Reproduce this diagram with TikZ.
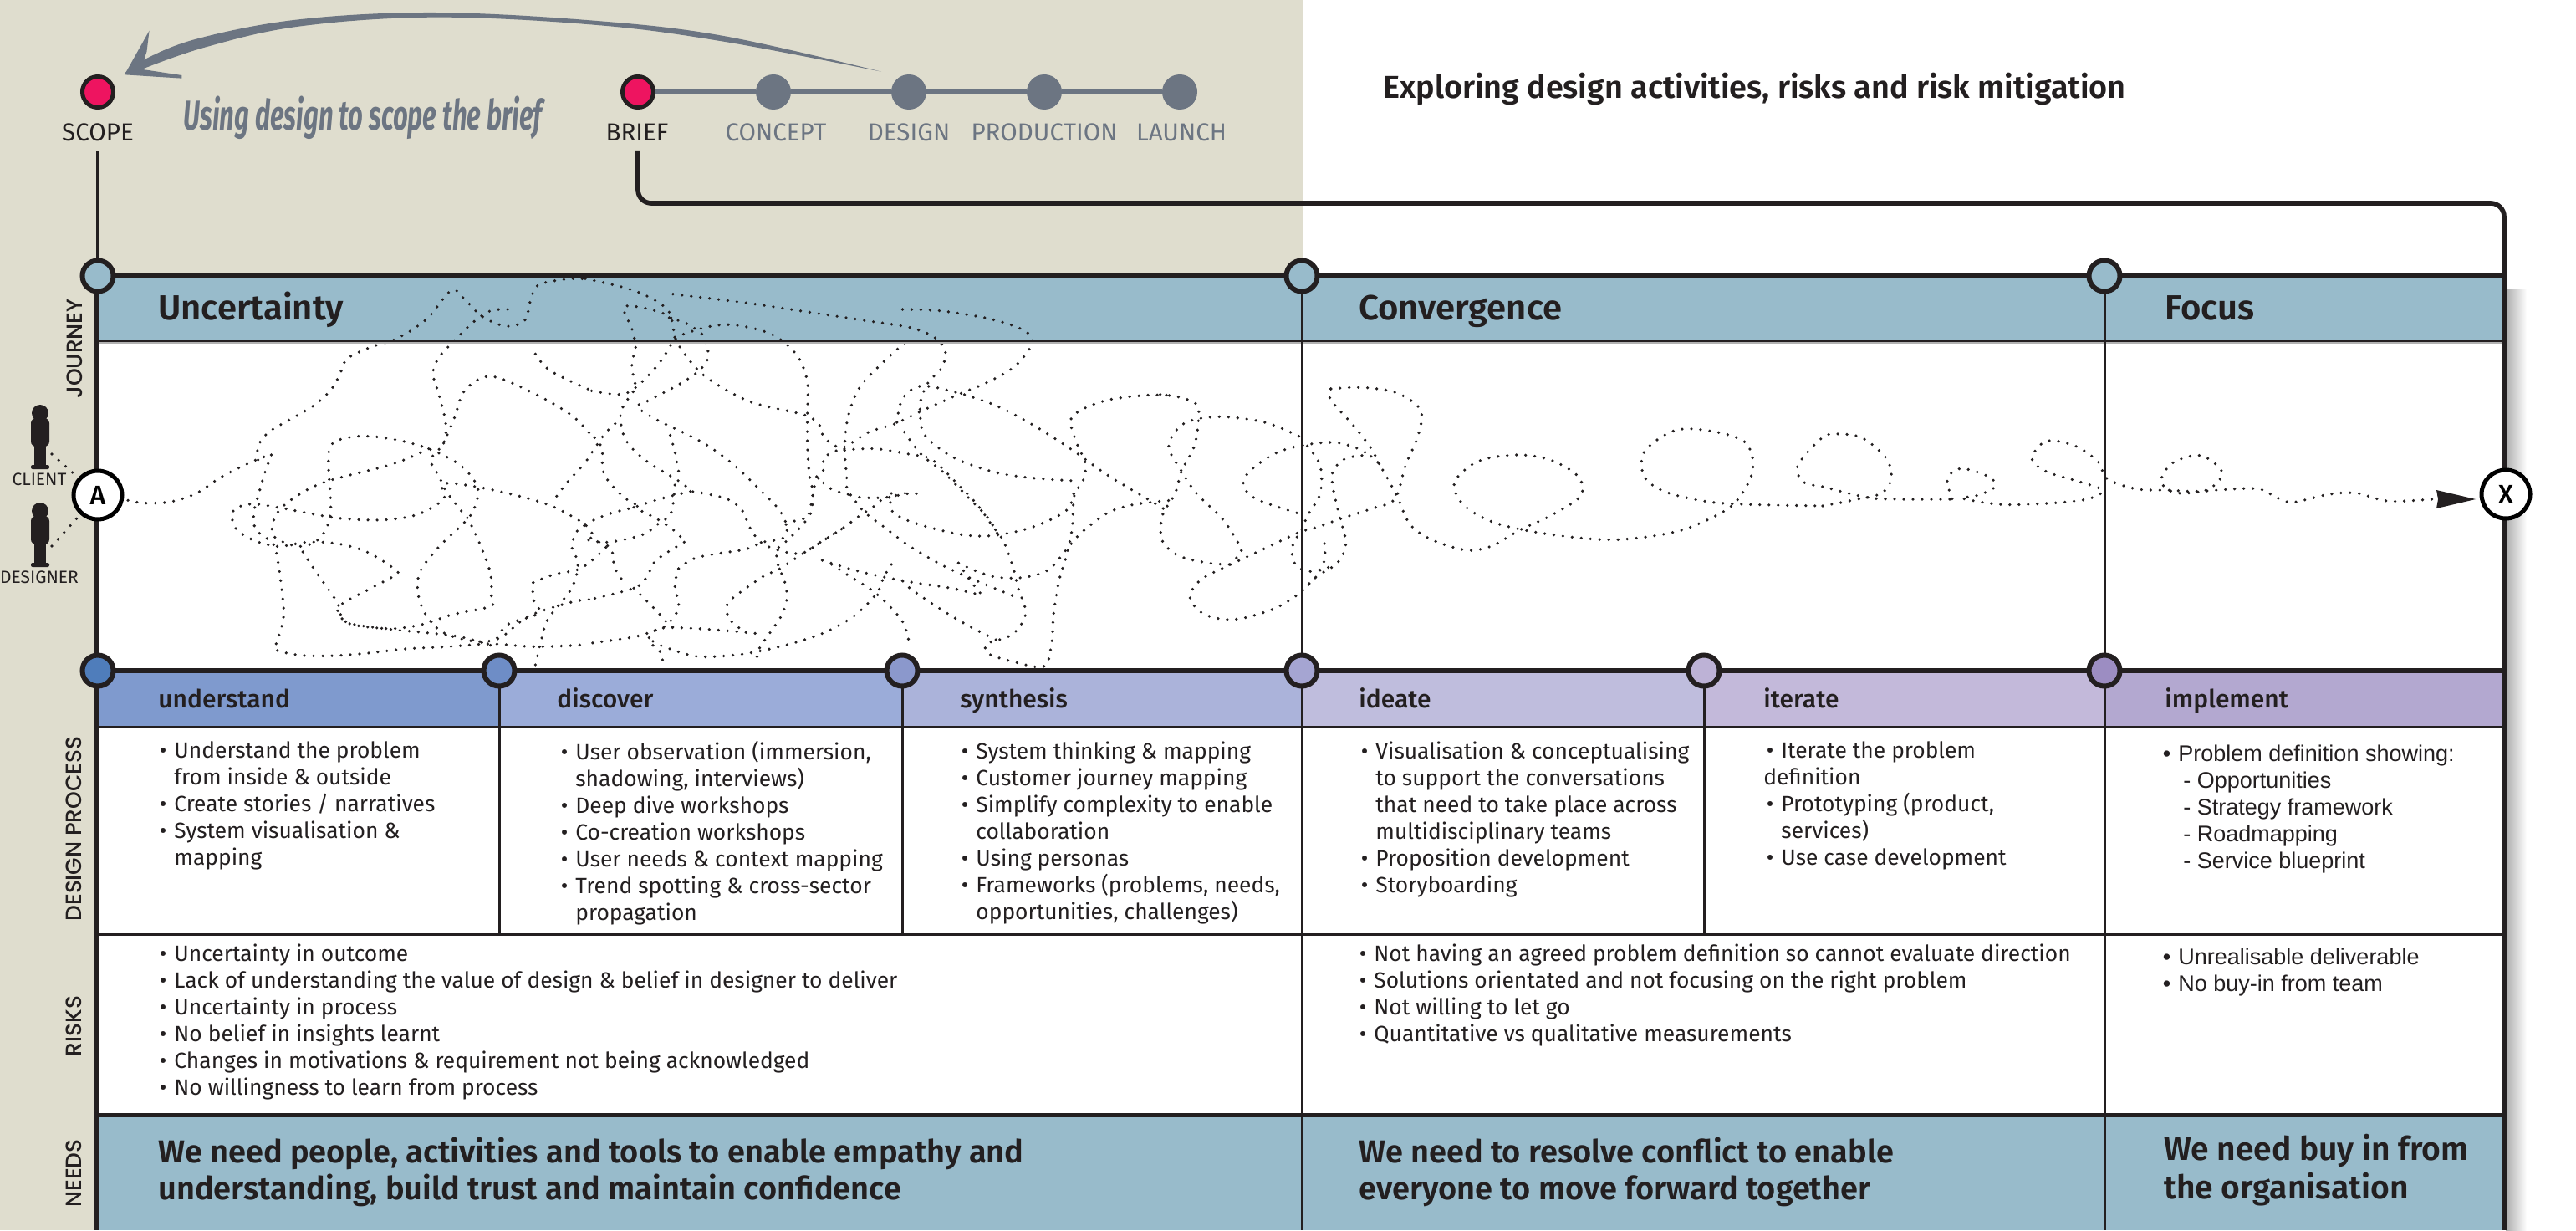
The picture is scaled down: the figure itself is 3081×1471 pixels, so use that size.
\documentclass[tikz,border=0pt]{standalone}
\usepackage{fontspec}
\setmainfont{Fira Sans}
\newfontfamily\flight{Fira Sans}
\newfontfamily\fmed{Fira Sans Medium}
\newfontfamily\fsemi{Fira Sans SemiBold}
\newfontfamily\fwide{Poppins Medium}
\newfontfamily\farial{Liberation Sans}
\definecolor{ln}{HTML}{231F20}
\definecolor{khaki}{HTML}{DFDDCE}
\definecolor{teal1}{HTML}{98BBCB}
\definecolor{slate}{HTML}{6C7582}
\definecolor{pink1}{HTML}{EE1460}
\definecolor{ba}{HTML}{7F9ACE}
\definecolor{bb}{HTML}{9BACD9}
\definecolor{bc}{HTML}{ABB3DA}
\definecolor{bd}{HTML}{BFBDDD}
\definecolor{be}{HTML}{C3B9DA}
\definecolor{bf}{HTML}{B3A8D0}
\definecolor{ca}{HTML}{4F7DBB}
\definecolor{cb}{HTML}{6E8DC6}
\definecolor{cc}{HTML}{8B98CC}
\definecolor{cd}{HTML}{A5A5D2}
\definecolor{ce}{HTML}{BDB2D6}
\definecolor{cf}{HTML}{9C8DC2}
\newcommand{\bl}{\llap{•\hspace{4.5pt}}}
\newcommand{\scr}[1]{\draw[scrib] plot[smooth,tension=0.55] coordinates {#1};}
\tikzset{
 x=0.5pt,y=-0.5pt,
 scrib/.style={draw=ln,line width=1.8pt,line cap=round,dash pattern=on 0pt off 5.5pt},
 ztwo/.style={shift={(0,320)},xscale=0.5102,yscale=0.33333},
 zthree/.style={shift={(700,320)},xscale=0.4464,yscale=0.33333},
 zfour/.style={shift={(1380,400)},xscale=0.5102,yscale=0.33333},
 zfive/.style={shift={(2200,300)},xscale=0.5618,yscale=0.3448},
 zone/.style={xscale=1.0204,yscale=0.33333},
 stage/.style={circle,draw=ln,line width=3pt,minimum size=18.5pt,inner sep=0pt},
 tl/.style={circle,fill=slate,minimum size=21pt,inner sep=0pt},
 pk/.style={circle,draw=ln,fill=pink1,line width=2.5pt,minimum size=18.5pt,inner sep=0pt},
 captxt/.style={inner sep=0pt,font=\flight\fontsize{14.8}{17}\selectfont},
 side/.style={inner sep=0pt,rotate=90,font=\fwide\fontsize{13.2}{15}\selectfont,text=ln},
 head/.style={inner sep=0pt,anchor=base west,font=\fsemi\fontsize{20.9}{24}\selectfont,text=ln},
 sub/.style={inner sep=0pt,anchor=base west,font=\fmed\fontsize{15}{17}\selectfont,text=ln},
 body/.style={inner sep=0pt,anchor=north west,align=left,font=\flight\fontsize{13.2}{16}\selectfont,text=ln},
 bodya/.style={inner sep=0pt,anchor=north west,align=left,font=\farial\fontsize{13.5}{16}\selectfont,text=ln},
 need/.style={inner sep=0pt,anchor=north west,align=left,font=\fsemi\fontsize{19}{22}\selectfont,text=ln},
 hline/.style={draw=ln,line width=1.5pt},
 vline/.style={draw=ln,line width=1.5pt},
 frameln/.style={draw=ln,line width=2.8pt},
 endpt/.style={circle,draw=black,fill=white,line width=2.5pt,minimum size=29pt,inner sep=0pt,font=\fmed\fontsize{16}{16}\selectfont},
 who/.style={inner sep=0pt,font=\flight\fontsize{10.5}{12}\selectfont,text=ln},
}
\begin{document}
\begin{tikzpicture}
\useasboundingbox (0,0) rectangle (3081,1471);
\clip (0,0) rectangle (3081,1471);
% backgrounds
\fill[white] (0,0) rectangle (3081,1471);
\fill[khaki] (0,0) rectangle (1558,330);
\fill[khaki] (0,0) rectangle (116,1471);
% right shadow
\shade[left color=black!32,right color=white] (2997,345) rectangle (3022,1471);
% bands
\fill[teal1] (116,330) rectangle (2995,408);
\fill[teal1] (116,1333) rectangle (2995,1471);
\fill[white] (116,408) rectangle (2995,802);
\fill[white] (116,869) rectangle (2995,1333);
\fill[ba] (116,802) rectangle (597,869);
\fill[bb] (597,802) rectangle (1079,869);
\fill[bc] (1079,802) rectangle (1557,869);
\fill[bd] (1557,802) rectangle (2038,869);
\fill[be] (2038,802) rectangle (2517,869);
\fill[bf] (2517,802) rectangle (2995,869);

% scribble
\begin{scope}[ztwo]
\scr{(300,835)(340,845)(400,840)(460,810)(520,750)(600,690)(636,672)}
\scr{(636,672)(620,740)(605,820)(595,880)(600,940)(640,990)(650,1040)(660,1150)(665,1250)(650,1340)(645,1370)(700,1390)(770,1393)(850,1385)(950,1368)(1050,1360)(1150,1350)(1250,1360)(1350,1355)(1372,1350)}
\scr{(605,690)(605,640)(630,590)(680,545)(740,490)(780,430)(800,370)(815,325)(870,285)(930,255)(1000,185)(1058,82)(1090,115)(1130,175)(1185,210)(1230,190)(1245,110)(1265,60)(1340,40)(1375,42)}
\scr{(1190,150)(1150,155)(1110,195)(1070,255)(1030,320)(1015,380)(1030,460)(1045,560)(1040,630)(1010,690)(1030,750)(1045,800)(1085,880)(1100,910)(1130,1010)(1150,1100)(1152,1180)(1150,1215)(1060,1245)(990,1280)(920,1295)(840,1285)(805,1265)(795,1215)(870,1150)(925,1105)(928,1085)(860,1020)(790,990)(720,985)(650,1000)(590,975)(550,930)(548,870)(590,848)(650,860)(720,880)(800,900)(900,905)(980,885)(1040,830)(1040,775)(1130,790)(1230,825)(1300,860)(1370,920)(1392,965)}
\scr{(1005,650)(920,705)(770,765)(700,815)(650,880)(640,960)(700,1000)(750,970)(775,880)(770,700)(780,630)(840,605)(920,615)(1005,650)(1080,710)(1120,790)(1110,870)(1085,920)(1030,1000)(985,1090)(980,1170)(1000,1250)(1040,1310)(1110,1340)(1170,1330)(1240,1250)(1340,1200)(1385,1190)}
\scr{(710,1020)(740,1090)(790,1200)(810,1270)(900,1295)(1000,1310)(1080,1325)(1150,1355)}
\scr{(1255,1425)(1270,1330)(1285,1260)(1340,1150)(1355,1060)(1340,1000)(1355,940)(1372,925)}
\scr{(1250,1130)(1300,1100)(1360,1080)(1410,1020)(1430,985)}
\scr{(1250,1130)(1250,1190)(1265,1230)(1250,1250)(1190,1280)(1165,1330)}
\scr{(1040,630)(1065,540)(1090,440)(1150,390)(1250,450)(1340,530)(1385,600)}
\scr{(1305,820)(1330,770)(1372,700)}
\scr{(1255,310)(1290,370)(1380,437)}
\end{scope}
\begin{scope}[zthree]
\scr{(0,40)(100,70)(170,105)(225,160)(245,265)(300,365)(360,425)(450,485)(590,530)(630,570)(640,610)(690,650)(780,650)(870,670)(930,690)(1000,780)(1050,850)(1090,925)(1120,980)(1145,1070)(1160,1150)(1180,1240)(1150,1310)(1110,1335)(1075,1350)(1080,1385)(1150,1415)(1230,1430)(1250,1340)(1255,1240)(1270,1120)(1290,1030)(1305,930)(1310,820)(1335,760)(1340,700)(1320,640)(1300,550)(1330,510)(1400,475)(1500,458)(1568,458)}
\scr{(235,95)(330,110)(450,130)(600,160)(750,190)(870,215)(935,250)(965,300)(955,360)(920,410)(900,470)(897,520)(905,590)(940,640)(1000,690)(1100,735)(1200,755)(1310,765)}
\scr{(850,150)(950,155)(1070,180)(1150,210)(1190,240)(1195,280)(1150,355)(1080,410)(1000,455)(900,515)(830,560)(760,590)(700,640)(640,680)(640,720)(615,780)(605,850)(590,910)(540,980)(515,1010)(515,1060)(535,1130)(540,1190)(525,1250)(495,1310)(465,1370)(458,1425)}
\scr{(230,180)(190,155)(105,140)(125,220)(135,285)(125,340)(130,400)(135,430)(115,470)(95,520)(100,590)(120,640)(170,700)(250,765)(290,805)(310,808)(380,830)(420,870)(440,930)(470,985)(520,1015)(580,1025)(630,985)(690,935)(730,895)(770,860)(800,830)(870,810)(900,815)}
\scr{(225,180)(270,200)(310,235)(320,260)(330,320)(305,370)(250,420)(165,480)(140,500)(190,545)(260,590)(330,640)(400,710)(470,800)(520,870)(540,930)(530,970)(470,985)}
\scr{(240,250)(200,340)(135,430)(90,455)(0,438)}
\scr{(240,250)(320,215)(390,205)(470,225)(520,255)(570,320)(595,410)(595,530)(595,630)(600,740)(610,810)(600,890)(545,915)(525,940)}
\scr{(855,270)(790,350)(735,430)(705,530)(695,640)(700,740)(710,815)(800,825)(880,800)}
\scr{(620,750)(660,795)(710,815)}
\scr{(725,840)(750,880)(800,930)(870,1000)(960,1070)(1060,1130)(1160,1185)}
\scr{(820,810)(820,870)(860,905)(930,935)(1020,960)(1100,960)(1200,930)(1290,870)(1310,800)}
\scr{(855,590)(900,670)(960,735)(1030,830)(1080,900)(1115,980)}
\scr{(835,555)(850,470)(900,425)(1000,450)(1100,495)(1200,565)(1300,650)(1400,745)(1500,825)(1568,880)}
\scr{(1000,1060)(1050,1090)(1100,1110)(1170,1112)(1240,1085)(1290,1010)(1330,950)(1400,880)(1470,850)(1568,835)}
\scr{(635,1050)(720,1085)(800,1110)(880,1130)(980,1150)(1060,1175)}
\scr{(1000,1060)(1030,1120)(1060,1170)}
\scr{(660,1065)(700,1100)(780,1170)(850,1270)(870,1365)}
\scr{(820,1065)(800,1110)(780,1170)(720,1250)(640,1310)(550,1350)(470,1375)(400,1390)(300,1395)(210,1360)(175,1335)}
\scr{(1100,1335)(1020,1280)(940,1215)(860,1140)(850,1115)}
\scr{(265,985)(190,1050)(165,1110)(130,1150)(15,1190)}
\scr{(240,780)(230,880)(195,920)(150,960)(60,985)(0,975)}
\scr{(0,920)(60,885)(130,860)(200,830)(290,800)}
\scr{(130,1150)(190,1230)(220,1275)(235,1290)}
\scr{(130,860)(190,900)(235,940)(255,965)}
\scr{(250,730)(240,660)(225,590)}
\scr{(250,1080)(240,1140)(250,1220)(220,1280)(190,1300)(130,1325)(0,1350)}
\scr{(250,1080)(300,1040)(430,1010)(470,985)}
\scr{(380,1210)(400,1180)(480,1105)(515,1085)(590,1020)(690,935)}
\scr{(380,1210)(385,1260)(430,1310)}
\scr{(455,1312)(300,1295)(200,1295)(170,1335)(205,1385)(205,1420)}
\scr{(80,560)(50,600)(0,700)}
\scr{(25,610)(45,650)(50,740)(100,820)(150,860)}
\scr{(15,970)(45,990)(70,1010)(80,1080)(110,1140)}
\end{scope}
\begin{scope}[zfour]
\scr{(15,215)(60,225)(100,250)(105,300)(95,400)(65,490)(50,570)(20,650)(20,740)(60,795)(130,820)(180,825)}
\scr{(415,195)(490,190)(570,210)(625,270)(620,360)(590,470)(565,590)(510,625)(440,660)(375,695)(340,710)(250,775)(180,825)(110,880)(85,945)(120,1005)(190,1022)(280,985)(340,930)(380,870)(430,820)(450,750)(435,650)(420,550)(420,490)(450,445)(505,435)(530,470)(570,580)(600,680)(650,735)(730,773)(790,760)(860,700)(930,650)(1000,580)(995,510)(930,450)(850,432)(760,455)(705,530)(725,610)(790,670)(880,705)(1000,730)(1100,735)(1230,705)(1330,640)(1375,580)(1405,480)(1385,385)(1300,345)(1220,345)(1150,420)(1150,510)(1200,565)(1300,600)(1400,610)(1568,615)}
\scr{(415,195)(415,235)(470,330)(510,410)(530,470)}
\scr{(340,365)(260,315)(150,295)(70,320)(35,400)(65,490)(100,570)(160,660)(195,740)(205,780)(180,820)}
\scr{(335,640)(240,590)(210,540)(225,490)(280,430)(340,400)(420,387)(480,410)(510,440)}
\scr{(360,400)(390,470)(390,570)(360,650)(350,690)(325,760)(330,820)(365,850)(420,830)}
\scr{(400,750)(400,810)(380,870)(350,915)}
\end{scope}
\scr{(2180,605)(2217,598)(2250,590)(2262,572)(2256,548)(2228,524)(2200,519)(2180,523)(2150,557)(2158,577)(2180,582)(2234,595)(2273,597)(2335,597)}
\begin{scope}[zfive]
\scr{(240,860)(230,790)(260,755)(320,785)(330,820)(290,850)(260,855)(280,865)(350,880)(450,875)(530,860)(560,830)(510,800)(440,765)(410,720)(440,660)(500,675)(550,730)(570,790)(630,825)(700,830)(780,830)(815,770)(770,710)(710,735)(685,800)(720,840)(800,830)(890,825)(930,855)(965,872)(1040,845)(1100,840)(1170,868)(1270,860)}
\end{scope}
\fill[ln] (2961,597) -- (2914,586) -- (2916,597) -- (2914,608) -- cycle;

% grid lines
\draw[hline] (116,408) -- (2995,408);
\draw[gray!60,line width=0.8pt] (116,410) -- (2995,410);
\draw[hline] (116,869) -- (2995,869);
\draw[hline] (116,1117) -- (2995,1117);
\draw[draw=ln,line width=2.5pt] (116,1333) -- (2995,1333);
\foreach \c in {1557,2517}{\draw[vline] (\c,330) -- (\c,1471);}
\foreach \c in {597,1079,2038}{\draw[vline] (\c,802) -- (\c,1117);}
\draw[frameln] (116,330) -- (116,1471);
\draw[frameln] (2995,330) -- (2995,1471);
\draw[draw=ln,line width=3pt] (116,330) -- (2995,330);
\draw[draw=ln,line width=3pt] (116,802) -- (2995,802);

% stage markers
\node[stage,fill=teal1] (j1) at (117,330) {};
\node[stage,fill=teal1] (j2) at (1557,330) {};
\node[stage,fill=teal1] (j3) at (2517,330) {};
\node[stage,fill=ca] (p1) at (117,802) {};
\node[stage,fill=cb] (p2) at (597,802) {};
\node[stage,fill=cc] (p3) at (1079,802) {};
\node[stage,fill=cd] (p4) at (1557,802) {};
\node[stage,fill=ce] (p5) at (2038,802) {};
\node[stage,fill=cf] (p6) at (2517,802) {};

% timeline
\node[pk] (scope) at (117,110) {};
\node[tl] (concept) at (925,110) {};
\node[tl] (design) at (1087,110) {};
\node[tl] (production) at (1249,110) {};
\node[tl] (launch) at (1411,110) {};
\node[pk] (brief) at (763,110) {};
\draw[slate,line width=3pt] (brief) -- (concept) -- (design) -- (production) -- (launch);
\node[captxt,text=ln] (lscope) at (117,158) {SCOPE};
\node[captxt,text=ln] (lbrief) at (762,158) {BRIEF};
\node[captxt,text=slate] (lconcept) at (928,158) {CONCEPT};
\node[captxt,text=slate] (ldesign) at (1087,158) {DESIGN};
\node[captxt,text=slate] (lprod) at (1249,158) {PRODUCTION};
\node[captxt,text=slate] (llaunch) at (1413,158) {LAUNCH};
\coordinate (sbot) at (117,180);
\coordinate (bbot) at (763,180);
\coordinate (bright) at (2995,332);
\draw[ln,line width=2pt] (sbot) -- (j1);
\draw[ln,line width=2.8pt,rounded corners=8pt] (bbot) -- (763,243) -- (2995,243) -- (bright);

% brush arrow
\begin{scope}[zone]
\fill[slate] plot[smooth,tension=0.6] coordinates {(1033,257)(850,130)(700,75)(510,45)(350,70)(230,140)(165,220)(146,265)}
 -- plot[smooth,tension=0.6] coordinates {(165,250)(240,170)(350,95)(510,62)(700,90)(850,150)(1033,257)} -- cycle;
\fill[slate] (175,110) -- (146,268) -- (213,281) -- (213,270) -- (165,248) -- (172,185) -- cycle;
\end{scope}
\node[inner sep=0pt,text=slate,xscale=0.62,font=\bfseries\itshape\fontsize{25}{25}\selectfont] (usedesign) at (434,141) {Using design to scope the brief};

% title
\node[head,font=\fsemi\fontsize{18.9}{22}\selectfont] (title) at (1654,118) {Exploring design activities, risks and risk mitigation};

% people
\foreach \dy/\nm in {0/CLIENT,117/DESIGNER}{
 \fill[ln] (48,494+\dy) circle (10);
 \fill[ln,rounded corners=3pt] (37,500+\dy) rectangle (59,534+\dy);
 \fill[ln] (41,530+\dy) rectangle (55,558+\dy);
 \fill[ln,rounded corners=1pt] (37,556+\dy) rectangle (59,561+\dy);
}
\node[who] (client) at (47,573) {CLIENT};
\node[who] (designer) at (47,690) {DESIGNER};
\node[endpt] (a) at (117,592) {A};
\node[endpt] (xx) at (2997,591) {X};
\coordinate (c1) at (62,543);
\coordinate (c2) at (62,653);
\draw[scrib] (c1) -- (a);
\draw[scrib] (c2) -- (a);

% side labels
\node[side] (s1) at (89,417) {JOURNEY};
\node[side] (s2) at (88,991) {DESIGN PROCESS};
\node[side] (s3) at (88,1227) {RISKS};
\node[side] (s4) at (88,1403) {NEEDS};

% headings
\node[head] (h1) at (189,382) {Uncertainty};
\node[head] (h2) at (1625,382) {Convergence};
\node[head] (h3) at (2589,382) {Focus};
\node[sub] (g1) at (189,846) {understand};
\node[sub] (g2) at (666,846) {discover};
\node[sub] (g3) at (1148,846) {synthesis};
\node[sub] (g4) at (1625,846) {ideate};
\node[sub] (g5) at (2109,846) {iterate};
\node[sub] (g6) at (2589,846) {implement};

% process text
\node[body] (t1) at (208,886) {\bl Understand the problem\\from inside \& outside\\\bl Create stories / narratives\\\bl System visualisation \&\\mapping};
\node[body] (t2) at (688,886) {\bl User observation (immersion,\\shadowing, interviews)\\\bl Deep dive workshops\\\bl Co-creation workshops\\\bl User needs \& context mapping\\\bl Trend spotting \& cross-sector\\propagation};
\node[body] (t3) at (1167,886) {\bl System thinking \& mapping\\\bl Customer journey mapping\\\bl Simplify complexity to enable\\collaboration\\\bl Using personas\\\bl Frameworks (problems, needs,\\opportunities, challenges)};
\node[body] (t4) at (1645,886) {\bl Visualisation \& conceptualising\\to support the conversations\\that need to take place across\\multidisciplinary teams\\\bl Proposition development\\\bl Storyboarding};
\node[body] (t5) at (2130,886) {\bl Iterate the problem\\\hspace*{-10.5pt}definition\\\bl Prototyping (product,\\services)\\\bl Use case development};
\node[bodya] (t6) at (2605,891) {\bl Problem definition showing:\\\hspace*{3pt}- Opportunities\\\hspace*{3pt}- Strategy framework\\\hspace*{3pt}- Roadmapping\\\hspace*{3pt}- Service blueprint};

% risks
\node[body] (r1) at (208,1128) {\bl Uncertainty in outcome\\\bl Lack of understanding the value of design \& belief in designer to deliver\\\bl Uncertainty in process\\\bl No belief in insights learnt\\\bl Changes in motivations \& requirement not being acknowledged\\\bl No willingness to learn from process};
\node[body] (r2) at (1643,1128) {\bl Not having an agreed problem definition so cannot evaluate direction\\\bl Solutions orientated and not focusing on the right problem\\\bl Not willing to let go\\\bl Quantitative vs qualitative measurements};
\node[bodya] (r3) at (2605,1134) {\bl Unrealisable deliverable\\\bl No buy-in from team};

% needs
\node[need] (n1) at (189,1360) {We need people, activities and tools to enable empathy and\\understanding, build trust and maintain confidence};
\node[need] (n2) at (1625,1360) {We need to resolve conflict to enable\\everyone to move forward together};
\node[need,font=\fsemi\fontsize{19.5}{23}\selectfont] (n3) at (2588,1356) {We need buy in from\\the organisation};
\end{tikzpicture}
\end{document}
